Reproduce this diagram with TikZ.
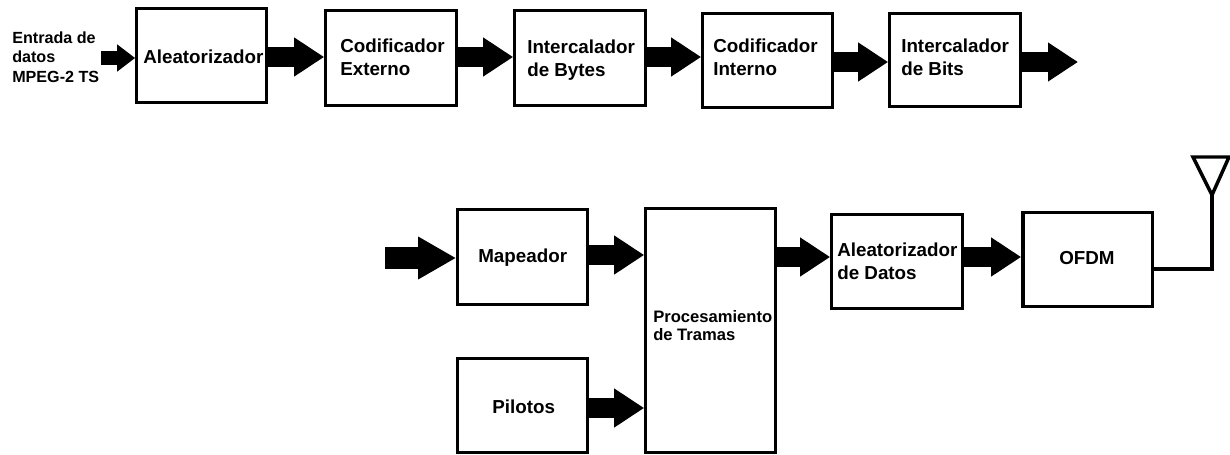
\documentclass[tikz,border=0pt]{standalone}
\usepackage{fontspec}
\setmainfont{Liberation Sans}
\usetikzlibrary{arrows.meta}
\newcommand{\bx}[5]{% name, outer x1, y1, x2, y2 in pixels
  \node[blk, minimum width=(#4-#2-3.5)*0.75pt, minimum height=(#5-#3-3.5)*0.75pt, anchor=north west] (#1) at (#2+1.75,#3+1.75) {};}
\tikzset{
  x=0.75pt,y=-0.75pt,
  blk/.style={draw=black,line width=2.6pt,inner sep=0pt,outer sep=0pt,fill=white},
  lab/.style={anchor=west,align=left,inner sep=0pt,font=\fontsize{14.1}{17.25}\selectfont\bfseries},
  smalllab/.style={anchor=west,align=left,inner sep=0pt,font=\fontsize{12.1}{14.6}\selectfont\bfseries},
  proclab/.style={anchor=west,align=left,inner sep=0pt,font=\fontsize{12.45}{13.5}\selectfont\bfseries},
  fat/.style={line width=15.4pt,-{Triangle[length=22.5pt,width=27.75pt]},shorten >=1.2pt},
  fatin/.style={line width=16.5pt,-{Triangle[length=28.5pt,width=30pt]},shorten >=1.2pt},
  smallin/.style={line width=11.2pt,-{Triangle[length=13.5pt,width=19.5pt]},shorten >=1.2pt},
  thinline/.style={line width=2.6pt,line join=miter},
}
\begin{document}
\begin{tikzpicture}
\useasboundingbox (0,0) rectangle (1230,454);
\bx{a}{135}{7}{268}{104}
\bx{b}{324}{9}{458}{107}
\bx{c}{513}{9}{647}{107}
\bx{d}{701}{12}{834}{109}
\bx{e}{888}{12}{1022}{108}
\bx{m}{456}{208}{589}{306}
\bx{p}{456}{357}{589}{454}
\bx{t}{644}{207}{777}{454}
\bx{f}{830}{213}{964}{310}
\bx{o}{1021}{211}{1154}{308}
\node[smalllab] (l0) at (12,57) {Entrada de\\datos\\MPEG-2 TS};
\node[lab] (l1) at (143,57) {Aleatorizador};
\node[lab] (l2) at (340,57) {Codificador\\Externo};
\node[lab] (l3) at (527,60) {Intercalador\\de Bytes};
\node[lab] (l4) at (713,57.5) {Codificador\\Interno};
\node[lab] (l5) at (901,57) {Intercalador\\de Bits};
\node[lab] (l6) at (478,257.5) {Mapeador};
\node[lab] (l7) at (492,407) {Pilotos};
\node[proclab] (l8) at (653,326) {Procesamiento\\de Tramas};
\node[lab] (l9) at (837,261) {Aleatorizador\\de Datos};
\node[lab] (l10) at (1059,258) {OFDM};
\coordinate (in0) at (101,58);
\coordinate (out0) at (1078,62);
\coordinate (in1) at (385,258);
\draw[smallin] (in0) -- (a.west |- in0);
\foreach \A/\B/\Y in {a/b/57,b/c/57,c/d/57,d/e/62,m/t/255,p/t/408,t/f/257,f/o/257}
  \draw[fat] (\A.east |- 0,\Y) -- (\B.west |- 0,\Y);
\draw[fat,shorten >=0pt] (e.east |- out0) -- (out0);
\draw[fatin] (in1) -- (m.west |- in1);
\coordinate (ant) at (1212,269);
\coordinate (apex) at (1212,195);
\coordinate (tl) at (1193,157);
\coordinate (tr) at (1229,157);
\draw[thinline] (o.east |- ant) -- (ant) -- (apex);
\draw[thinline] (tl) -- (tr) -- (apex) -- cycle;
\end{tikzpicture}
\end{document}
